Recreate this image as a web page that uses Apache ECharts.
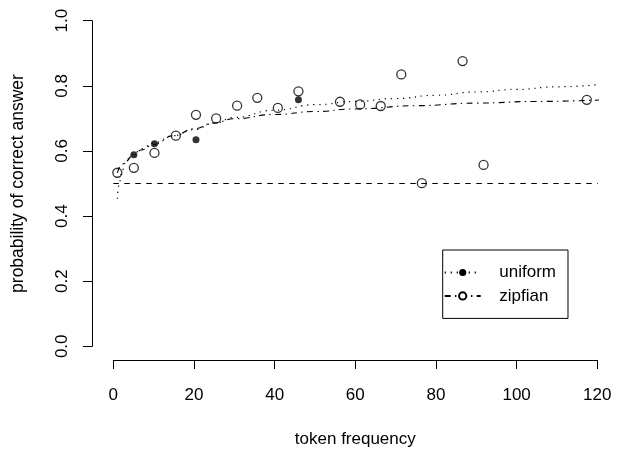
<!DOCTYPE html>
<html>
<head>
<meta charset="utf-8">
<script src="https://cdn.jsdelivr.net/npm/echarts@6/dist/echarts.min.js"></script>
<style>
html,body{margin:0;padding:0;background:#fff;}
#chart{width:623px;height:453px;}
</style>
</head>
<body>
<div id="chart"></div>
<script>
// ---- data ----
const xTicks = [0, 20, 40, 60, 80, 100, 120];
const yTicks = [0.0, 0.2, 0.4, 0.6, 0.8, 1.0];

// observed points
const uniformX = [5.1, 10.2, 20.5, 45.9];
const uniformY = [0.588, 0.622, 0.634, 0.757];
const zipfianX = [1, 5.1, 10.2, 15.5, 20.5, 25.5, 30.7, 35.7, 40.8, 45.9, 56.2, 61.2, 66.3, 71.4, 76.5, 86.6, 91.8, 117.4];
const zipfianY = [0.533, 0.548, 0.594, 0.647, 0.711, 0.700, 0.739, 0.763, 0.732, 0.783, 0.751, 0.743, 0.738, 0.835, 0.501, 0.876, 0.557, 0.757];

// fitted curves
const uniformFitX = [1, 1.5, 2, 3, 4, 5, 7, 10, 15, 20, 25, 30, 40, 50, 60, 70, 80, 90, 100, 110, 121.5];
const uniformFitY = [0.453, 0.50, 0.53, 0.563, 0.578, 0.59, 0.607, 0.625, 0.647, 0.665, 0.685, 0.703, 0.725, 0.742, 0.752, 0.761, 0.771, 0.781, 0.789, 0.797, 0.805];
const zipfianFitX = [1, 2, 3, 5, 7, 10, 15, 20, 25, 30, 40, 50, 60, 75, 90, 105, 121.5];
const zipfianFitY = [0.533, 0.555, 0.568, 0.588, 0.603, 0.62, 0.647, 0.668, 0.686, 0.699, 0.712, 0.721, 0.729, 0.739, 0.747, 0.752, 0.757];

// chance line
const chanceX = [0, 121.5];
const chanceY = [0.5, 0.5];

const zip = (xs, ys) => xs.map((x, i) => [x, ys[i]]);
const FONT = '"Liberation Sans", Arial, Helvetica, sans-serif';

const chart = echarts.init(document.getElementById('chart'), null, {renderer: 'canvas'});
chart.setOption({
  backgroundColor: '#fff',
  animation: false,
  textStyle: {fontFamily: FONT},
  grid: {left: 113.3, right: 25.7, top: 20.7, bottom: 104.7, containLabel: false},
  xAxis: {
    type: 'value', min: xTicks[0], max: xTicks[xTicks.length - 1], interval: 20,
    offset: 13.7,
    name: 'token frequency', nameLocation: 'middle', nameGap: 71,
    nameTextStyle: {fontSize: 17, color: '#000', fontFamily: FONT},
    axisLine: {show: true, onZero: false, lineStyle: {color: '#000', width: 1}},
    axisTick: {show: true, length: 9, lineStyle: {color: '#000', width: 1}},
    axisLabel: {fontSize: 17, color: '#000', margin: 27, fontFamily: FONT},
    splitLine: {show: false}
  },
  yAxis: {
    type: 'value', min: yTicks[0], max: yTicks[yTicks.length - 1], interval: 0.2,
    offset: 21.3,
    name: 'probability of correct answer', nameLocation: 'middle', nameGap: 64.5,
    nameTextStyle: {fontSize: 17.5, color: '#000', fontFamily: FONT},
    axisLine: {show: true, onZero: false, lineStyle: {color: '#000', width: 1}},
    axisTick: {show: true, length: 9, lineStyle: {color: '#000', width: 1}},
    axisLabel: {fontSize: 17, color: '#000', margin: 21.5, rotate: 90, fontFamily: FONT,
      formatter: v => v.toFixed(1)},
    splitLine: {show: false}
  },
  legend: {
    data: ['uniform', 'zipfian'],
    orient: 'vertical', left: 442.7, top: 250,
    itemWidth: 36, itemHeight: 9, itemGap: 6.4,
    padding: [14, 12, 14, 1],
    borderColor: '#000', borderWidth: 1, borderRadius: 0,
    selectedMode: false,
    textStyle: {fontSize: 17, color: '#000', fontFamily: FONT, lineHeight: 17, padding: [0, 0, 0, 13.6]}
  },
  series: [
    {
      name: 'chance', type: 'line', data: zip(chanceX, chanceY),
      symbol: 'none', silent: true,
      lineStyle: {color: '#000', width: 1, type: [5.5, 5.5]}
    },
    {
      name: 'uniform', type: 'line', data: zip(uniformFitX, uniformFitY),
      smooth: true, smoothMonotone: 'x',
      symbol: 'circle', symbolSize: 7, showSymbol: false, silent: true,
      itemStyle: {color: '#000'},
      lineStyle: {color: '#000', width: 1.2, type: [1.2, 4.8]}
    },
    {
      name: 'zipfian', type: 'line', data: zip(zipfianFitX, zipfianFitY),
      smooth: true, smoothMonotone: 'x',
      symbol: 'emptyCircle', symbolSize: 7, showSymbol: false, silent: true,
      itemStyle: {color: '#000'},
      lineStyle: {color: '#000', width: 1.1, type: [6, 4.3, 1.4, 4.3]}
    },
    {
      name: 'uniform points', type: 'scatter', data: zip(uniformX, uniformY),
      symbol: 'circle', symbolSize: 7, clip: false,
      itemStyle: {color: '#000'}
    },
    {
      name: 'zipfian points', type: 'scatter', data: zip(zipfianX, zipfianY),
      symbol: 'circle', symbolSize: 9, clip: false,
      itemStyle: {color: 'rgba(0,0,0,0)', borderColor: '#000', borderWidth: 1.3}
    }
  ]
});
</script>
</body>
</html>
